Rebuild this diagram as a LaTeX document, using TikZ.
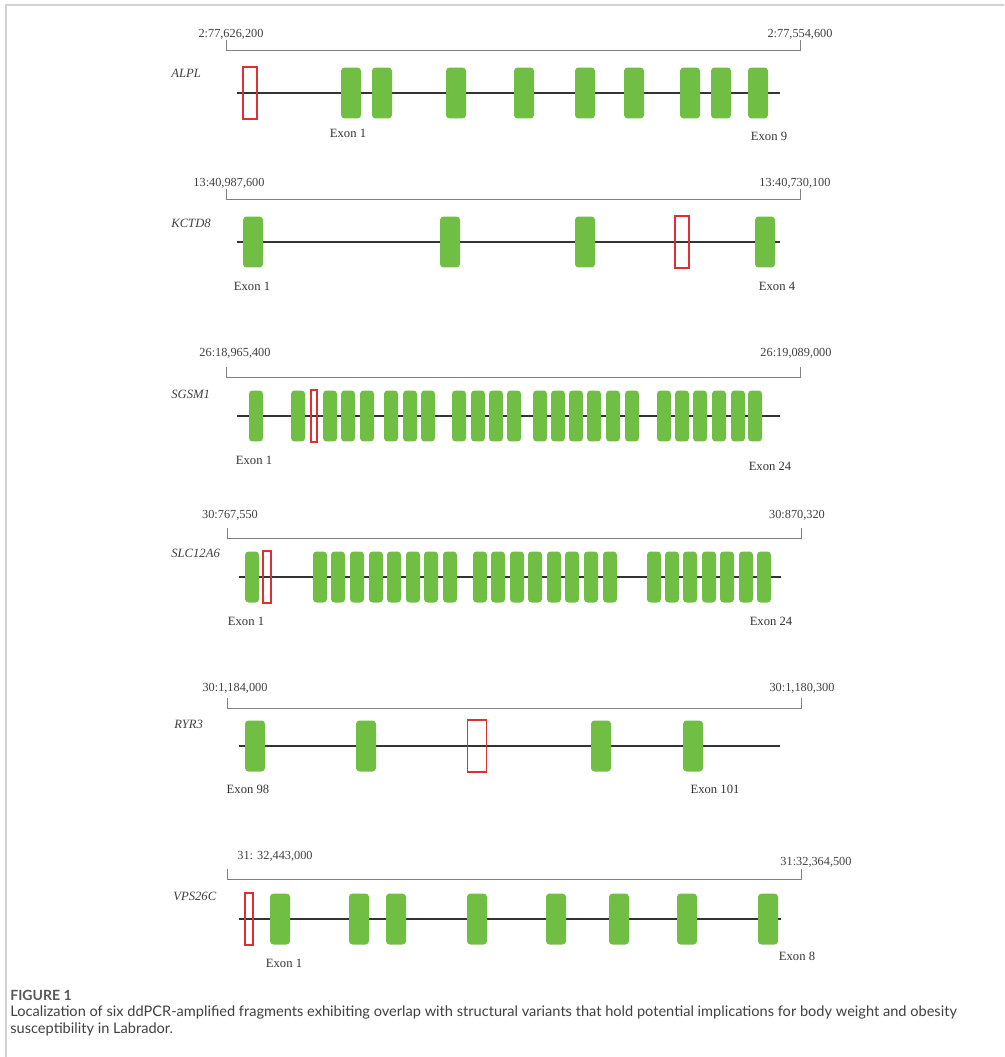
\documentclass[tikz,border=0pt]{standalone}
\usepackage{fontspec}
\setmainfont{Liberation Serif}
\newfontfamily\capfont{Lato}
\usepackage{xcolor}
\usepackage{tikz}
\usetikzlibrary{positioning}

\definecolor{exongreen}{RGB}{112,190,68}
\definecolor{svred}{RGB}{222,48,52}

\begin{document}
\begin{tikzpicture}[
    x=0.02cm, y=-0.02cm,
    exon/.style={rectangle, fill=exongreen, rounded corners=2pt, minimum width=0.4cm, minimum height=1.02cm, inner sep=0pt},
    slim/.style={exon, minimum width=0.28cm},
    sv/.style={rectangle, draw=svred, line width=1pt, minimum height=1.04cm, inner sep=0pt},
    backbone/.style={line width=1.1pt, black!80},
    bracket/.style={line width=0.5pt, black!50},
    coord/.style={font=\fontsize{7}{8}\selectfont, text=black!75, inner sep=1pt},
    gene/.style={font=\fontsize{7.2}{8}\selectfont\itshape, text=black!75, anchor=west, inner sep=0pt},
    exonlab/.style={font=\fontsize{7.2}{8}\selectfont, text=black!80, inner sep=1pt},
    frame/.style={line width=1.2pt, black!18}
  ]

    % Page
    \useasboundingbox (0,0) rectangle (1004,1057);
    \draw[frame] (6,1057) -- (6,5) -- (1004,5);

    % ALPL
    \node[coord] (alplstart) at (231,34) {2:77,626,200};
    \node[coord] (alplend) at (800,34) {2:77,554,600};
    \coordinate (alplbl) at (226,50);
    \coordinate (alplbr) at (800,50);
    \draw[bracket] (alplbl) ++(0,-10) -- (alplbl) -- (alplbr) -- ++(0,-10);
    \node[gene] (alpl) at (171,73) {ALPL};
    \coordinate (alplL) at (237,93);
    \coordinate (alplR) at (780,93);
    \draw[backbone] (alplL) -- (alplR);
    \node[sv, minimum width=0.28cm] (alplsv) at (250,93) {};
    \node[exon] (alpl1) at (351,93) {};
    \node[exon] (alpl2) at (382,93) {};
    \node[exon] (alpl3) at (456,93) {};
    \node[exon] (alpl4) at (524,93) {};
    \node[exon] (alpl5) at (585,93) {};
    \node[exon] (alpl6) at (634,93) {};
    \node[exon] (alpl7) at (690,93) {};
    \node[exon] (alpl8) at (721,93) {};
    \node[exon] (alpl9) at (758,93) {};
    \node[exonlab] (alplfirst) at (348,133) {Exon 1};
    \node[exonlab] (alpllast) at (769,136) {Exon 9};

    % KCTD8
    \node[coord] (kctdstart) at (229,183) {13:40,987,600};
    \node[coord] (kctdend) at (795,183) {13:40,730,100};
    \coordinate (kctdbl) at (226,199);
    \coordinate (kctdbr) at (800,199);
    \draw[bracket] (kctdbl) ++(0,-10) -- (kctdbl) -- (kctdbr) -- ++(0,-10);
    \node[gene] (kctd) at (171,223) {KCTD8};
    \coordinate (kctdL) at (237,242);
    \coordinate (kctdR) at (780,242);
    \draw[backbone] (kctdL) -- (kctdR);
    \node[exon] (kctd1) at (253,242) {};
    \node[exon] (kctd2) at (450,242) {};
    \node[exon] (kctd3) at (585,242) {};
    \node[sv, minimum width=0.28cm] (kctdsv) at (682,242) {};
    \node[exon] (kctd4) at (765,242) {};
    \node[exonlab] (kctdfirst) at (252,286) {Exon 1};
    \node[exonlab] (kctdlast) at (777,286) {Exon 4};

    % SGSM1
    \node[coord] (sgsmstart) at (235,353) {26:18,965,400};
    \node[coord] (sgsmend) at (796,353) {26:19,089,000};
    \coordinate (sgsmbl) at (226,377);
    \coordinate (sgsmbr) at (800,377);
    \draw[bracket] (sgsmbl) ++(0,-10) -- (sgsmbl) -- (sgsmbr) -- ++(0,-10);
    \node[gene] (sgsm) at (171,394) {SGSM1};
    \coordinate (sgsmL) at (237,416);
    \coordinate (sgsmR) at (780,416);
    \draw[backbone] (sgsmL) -- (sgsmR);
    \node[slim] (sgsm1) at (256,416) {};
    \node[slim] (sgsm2) at (298,416) {};
    \node[sv, minimum width=0.13cm] (sgsmsv) at (314,416) {};
    \node[slim] (sgsm3) at (330,416) {};
    \node[slim] (sgsm4) at (348,416) {};
    \node[slim] (sgsm5) at (367,416) {};
    \node[slim] (sgsm6) at (391,416) {};
    \node[slim] (sgsm7) at (410,416) {};
    \node[slim] (sgsm8) at (428,416) {};
    \node[slim] (sgsm9) at (459,416) {};
    \node[slim] (sgsm10) at (478,416) {};
    \node[slim] (sgsm11) at (496,416) {};
    \node[slim] (sgsm12) at (514,416) {};
    \node[slim] (sgsm13) at (540,416) {};
    \node[slim] (sgsm14) at (558,416) {};
    \node[slim] (sgsm15) at (576,416) {};
    \node[slim] (sgsm16) at (594,416) {};
    \node[slim] (sgsm17) at (613,416) {};
    \node[slim] (sgsm18) at (632,416) {};
    \node[slim] (sgsm19) at (664,416) {};
    \node[slim] (sgsm20) at (682,416) {};
    \node[slim] (sgsm21) at (700,416) {};
    \node[slim] (sgsm22) at (719,416) {};
    \node[slim] (sgsm23) at (738,416) {};
    \node[slim] (sgsm24) at (755,416) {};
    \node[exonlab] (sgsmfirst) at (254,460) {Exon 1};
    \node[exonlab] (sgsmlast) at (770,466) {Exon 24};

    % SLC12A6
    \node[coord] (slcstart) at (230,515) {30:767,550};
    \node[coord] (slcend) at (797,515) {30:870,320};
    \coordinate (slcbl) at (227,538);
    \coordinate (slcbr) at (801,538);
    \draw[bracket] (slcbl) ++(0,-10) -- (slcbl) -- (slcbr) -- ++(0,-10);
    \node[gene] (slc) at (171,553) {SLC12A6};
    \coordinate (slcL) at (239,577);
    \coordinate (slcR) at (781,577);
    \draw[backbone] (slcL) -- (slcR);
    \node[slim] (slc1) at (252,577) {};
    \node[sv, minimum width=0.16cm] (slcsv) at (267,577) {};
    \node[slim] (slc2) at (320,577) {};
    \node[slim] (slc3) at (338,577) {};
    \node[slim] (slc4) at (357,577) {};
    \node[slim] (slc5) at (376,577) {};
    \node[slim] (slc6) at (394,577) {};
    \node[slim] (slc7) at (413,577) {};
    \node[slim] (slc8) at (431,577) {};
    \node[slim] (slc9) at (450,577) {};
    \node[slim] (slc10) at (480,577) {};
    \node[slim] (slc11) at (498,577) {};
    \node[slim] (slc12) at (517,577) {};
    \node[slim] (slc13) at (535,577) {};
    \node[slim] (slc14) at (554,577) {};
    \node[slim] (slc15) at (572,577) {};
    \node[slim] (slc16) at (591,577) {};
    \node[slim] (slc17) at (610,577) {};
    \node[slim] (slc18) at (654,577) {};
    \node[slim] (slc19) at (672,577) {};
    \node[slim] (slc20) at (690,577) {};
    \node[slim] (slc21) at (709,577) {};
    \node[slim] (slc22) at (727,577) {};
    \node[slim] (slc23) at (746,577) {};
    \node[slim] (slc24) at (764,577) {};
    \node[exonlab] (slcfirst) at (246,621) {Exon 1};
    \node[exonlab] (slclast) at (771,621) {Exon 24};

    % RYR3
    \node[coord] (ryrstart) at (235,688) {30:1,184,000};
    \node[coord] (ryrend) at (802,688) {30:1,180,300};
    \coordinate (ryrbl) at (227,708);
    \coordinate (ryrbr) at (801,708);
    \draw[bracket] (ryrbl) ++(0,-10) -- (ryrbl) -- (ryrbr) -- ++(0,-10);
    \node[gene] (ryr) at (174,724) {RYR3};
    \coordinate (ryrL) at (239,746);
    \coordinate (ryrR) at (780,746);
    \draw[backbone] (ryrL) -- (ryrR);
    \node[exon] (ryr1) at (255,746) {};
    \node[exon] (ryr2) at (366,746) {};
    \node[sv, minimum width=0.38cm] (ryrsv) at (477,746) {};
    \node[exon] (ryr3) at (601,746) {};
    \node[exon] (ryr4) at (693,746) {};
    \node[exonlab] (ryrfirst) at (248,789) {Exon 98};
    \node[exonlab] (ryrlast) at (715,789) {Exon 101};

    % VPS26C
    \node[coord] (vpsstart) at (275,856) {31: 32,443,000};
    \node[coord] (vpsend) at (816,862) {31:32,364,500};
    \coordinate (vpsbl) at (227,879);
    \coordinate (vpsbr) at (801,879);
    \draw[bracket] (vpsbl) ++(0,-10) -- (vpsbl) -- (vpsbr) -- ++(0,-10);
    \node[gene] (vps) at (173,896) {VPS26C};
    \coordinate (vpsL) at (239,919);
    \coordinate (vpsR) at (781,919);
    \draw[backbone] (vpsL) -- (vpsR);
    \node[sv, minimum width=0.15cm] (vpssv) at (249,919) {};
    \node[exon] (vps1) at (280,919) {};
    \node[exon] (vps2) at (359,919) {};
    \node[exon] (vps3) at (396,919) {};
    \node[exon] (vps4) at (477,919) {};
    \node[exon] (vps5) at (556,919) {};
    \node[exon] (vps6) at (619,919) {};
    \node[exon] (vps7) at (687,919) {};
    \node[exon] (vps8) at (768,919) {};
    \node[exonlab] (vpsfirst) at (284,963) {Exon 1};
    \node[exonlab] (vpslast) at (797,956) {Exon 8};

    % Caption
    \node[font=\capfont\bfseries\fontsize{8}{9}\selectfont, text=black!65, anchor=west, inner sep=0pt] (figno) at (10,995) {FIGURE 1};
    \node[font=\capfont\fontsize{8.3}{9.7}\selectfont, text=black!75, anchor=west, align=left, inner sep=0pt] (caption) at (10,1020.5) {Localization of six ddPCR-amplified fragments exhibiting overlap with structural variants that hold potential implications for body weight and obesity\\susceptibility in Labrador.};

  \end{tikzpicture}
\end{document}
